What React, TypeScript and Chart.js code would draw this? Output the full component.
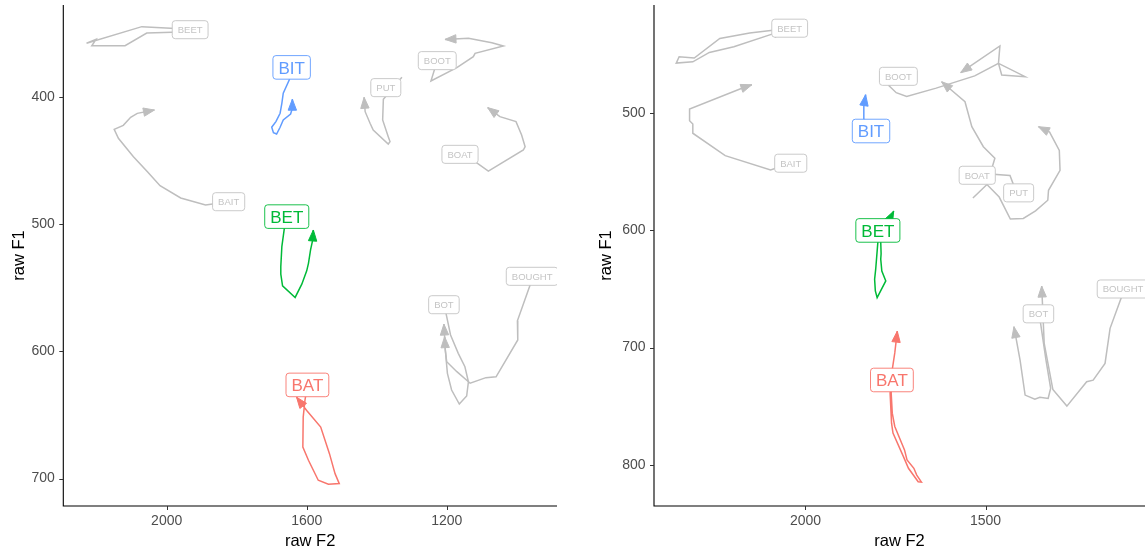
import React, { useEffect, useRef } from "react";
import { Chart, registerables } from "chart.js";

Chart.register(...registerables);

type Pt = [number, number];

const FONT = '"Liberation Sans", Arial, Helvetica, sans-serif';

// Words (order used for the label arrays)
const WORDS = ["BEET", "BIT", "BAIT", "BET", "BAT", "BOT", "BOUGHT", "BOOT", "PUT", "BOAT"];
const HIGHLIGHT_WORDS = ["BAT", "BET", "BIT"];
const HIGHLIGHT_COLORS = ["#F8766D", "#00BA38", "#619CFF"];
const GREY = "#BEBEBE";

// Axis ticks
const leftXTicks = [2000, 1600, 1200];
const leftYTicks = [400, 500, 600, 700];
const rightXTicks = [2000, 1500];
const rightYTicks = [500, 600, 700, 800];

// Axis limits [min, max] (Hz)
const leftF2Range = [884.9, 2295.4];
const leftF1Range = [328, 721.5];
const rightF2Range = [1057, 2420.8];
const rightF1Range = [407.5, 835.3];

// ---- Left speaker: trajectories [F2, F1] ----
const leftBEET: Pt[] = [[1933, 347], [2071, 345], [2229, 358], [2202, 355], [2214, 360], [2119, 360], [2057, 350], [1984, 349.5], [1943, 349]];
const leftBIT: Pt[] = [[1643, 377], [1650, 386.9], [1667, 397.3], [1671, 405.2], [1676, 413], [1688, 419.6], [1700, 424], [1695, 428.3], [1686, 429.3], [1676, 424], [1667, 418.3], [1646, 413.6], [1641, 409.1], [1641, 402]];
const leftBAIT: Pt[] = [[1823, 482.5], [1889, 485.1], [1960, 479.6], [2019, 469.9], [2055, 458.9], [2095, 447.1], [2138, 432.7], [2150, 425.7], [2124, 422.5], [2103, 416.2], [2084, 413.1], [2035, 410.5]];
const leftBET: Pt[] = [[1657, 494.2], [1664, 503.7], [1671, 517.8], [1674, 533.5], [1674, 539.4], [1669, 548.6], [1633, 557.7], [1614, 547.3], [1600, 536.8], [1595, 530.9], [1589, 520.4], [1583, 512.6], [1581, 504.7]];
const leftBAT: Pt[] = [[1598, 626.4], [1605, 638.6], [1610, 651.7], [1611, 675.2], [1595, 685.6], [1567, 701.3], [1538, 704.4], [1507, 703.9], [1519, 696.1], [1535, 680.4], [1560, 659.5], [1600, 646.5], [1629, 636]];
const leftBOT: Pt[] = [[1208, 563.4], [1202, 570.2], [1189, 587.2], [1167, 601.6], [1148, 612.1], [1138, 623.9], [1143, 635.1], [1164, 641.4], [1186, 630.4], [1198, 617.3], [1204, 599], [1208, 578.6]];
const leftBOUGHT: Pt[] = [[956, 541.1], [962, 548.2], [998, 576], [997, 591.1], [1059, 620], [1088, 620.7], [1133, 625.1], [1171, 616], [1200, 608.2], [1204, 599], [1206, 588.5]];
const leftBOOT: Pt[] = [[1227, 371.7], [1245, 387.7], [1171, 377.2], [1124, 368.6], [1119, 366], [1038, 360.2], [1071, 357.6], [1138, 354.2], [1205, 355]];
const leftPUT: Pt[] = [[1328, 384.8], [1381, 402.1], [1383, 418.3], [1367, 431.4], [1362, 435.3], [1367, 437.2], [1410, 426.2], [1419, 420.9], [1433, 411.8], [1436, 400.5]];
const leftBOAT: Pt[] = [[1162, 445.3], [1112, 452.4], [1081, 458.4], [981, 441.9], [976, 439.3], [986, 430.1], [1002, 419.6], [1048, 415.7], [1083, 408.6]];
const leftLabelF2 = [1933, 1643, 1823, 1657, 1598, 1208, 956, 1227, 1374, 1162];
const leftLabelF1 = [347.4, 377, 482.5, 494.2, 626.4, 563.4, 541.1, 371.7, 392.9, 445.3];

// ---- Right speaker: trajectories [F2, F1] ----
const rightBEET: Pt[] = [[2044, 427.3], [2155, 431.5], [2238, 436.1], [2309, 452.8], [2351, 451.7], [2359, 457.1], [2313, 456], [2267, 448], [2199, 443.2], [2093, 432.4], [2058, 429.5]];
const rightBIT: Pt[] = [[1818, 515.1], [1838, 504.8], [1838, 494.3], [1833, 484.1]];
const rightBAIT: Pt[] = [[2041, 542.6], [2097, 548.3], [2223, 536.1], [2313, 517], [2313, 509.1], [2322, 506.3], [2322, 496.3], [2175, 478.4], [2149, 475.6]];
const rightBET: Pt[] = [[1799, 600], [1799, 610], [1805, 633.1], [1808, 641.7], [1806, 651.7], [1801, 657.4], [1777, 643.1], [1788, 634.6], [1791, 624.6], [1790, 619.9], [1791, 610], [1782, 600], [1755, 583.5]];
const rightBAT: Pt[] = [[1760, 727.7], [1765, 738.9], [1761, 764.6], [1757, 773.1], [1728, 793.1], [1714, 803.1], [1687, 814.6], [1678, 814.9], [1691, 808.9], [1699, 803.1], [1718, 796], [1725, 787.4], [1752, 767.4], [1759, 756], [1762, 738.9], [1759, 718.9], [1752, 704.6], [1745, 686]];
const rightBOT: Pt[] = [[1353, 671.2], [1347, 679.3], [1332, 710.7], [1319, 734.8], [1326, 743.4], [1349, 742.5], [1363, 744.2], [1390, 740.6], [1404, 710.7], [1421, 682.2]];
const rightBOUGHT: Pt[] = [[1118, 650], [1122, 656.6], [1154, 683.6], [1168, 713.5], [1201, 727.8], [1219, 729.2], [1274, 750], [1313, 735.7], [1337, 696.4], [1341, 668], [1344, 647.5]];
const rightBOOT: Pt[] = [[1742, 468.4], [1768, 476.5], [1748, 482.4], [1719, 485.6], [1637, 478.5], [1530, 468], [1464, 457.3], [1455, 467.3], [1390, 468.7], [1464, 457.3], [1460, 442.5], [1569, 465.3]];
const rightPUT: Pt[] = [[1408, 567.9], [1423, 560.4], [1432, 553], [1487, 551.8], [1474, 538.4], [1506, 528.5], [1538, 511.4], [1557, 490.1], [1622, 473]];
const rightBOAT: Pt[] = [[1535, 572.3], [1496, 560.8], [1462, 571.5], [1431, 590.3], [1395, 589.8], [1361, 583.3], [1327, 574.2], [1325, 565.7], [1293, 548.7], [1295, 531.7], [1322, 516.1], [1353, 511.4]];
const rightLabelF2 = [2044, 1818, 2041, 1799, 1760, 1353, 1118, 1742, 1408, 1523];
const rightLabelF1 = [427.3, 515.1, 542.6, 600, 727.7, 671.2, 650, 468.4, 567.9, 552.9];

const leftPaths = [leftBEET, leftBIT, leftBAIT, leftBET, leftBAT, leftBOT, leftBOUGHT, leftBOOT, leftPUT, leftBOAT];
const rightPaths = [rightBEET, rightBIT, rightBAIT, rightBET, rightBAT, rightBOT, rightBOUGHT, rightBOOT, rightPUT, rightBOAT];

function colorOf(word: string): string {
  const i = HIGHLIGHT_WORDS.indexOf(word);
  return i >= 0 ? HIGHLIGHT_COLORS[i] : GREY;
}

interface PanelCfg {
  left: number;
  width: number;
  paths: Pt[][];
  labelF2: number[];
  labelF1: number[];
  xRange: number[];
  yRange: number[];
  xTicks: number[];
  yTicks: number[];
  yAxisWidth: number;
  yTitlePad: number;
  padRight: number;
}

const TICK_LEN = 4;

function roundRect(ctx: CanvasRenderingContext2D, x: number, y: number, w: number, h: number, r: number) {
  ctx.beginPath();
  ctx.moveTo(x + r, y);
  ctx.lineTo(x + w - r, y);
  ctx.arcTo(x + w, y, x + w, y + r, r);
  ctx.lineTo(x + w, y + h - r);
  ctx.arcTo(x + w, y + h, x + w - r, y + h, r);
  ctx.lineTo(x + r, y + h);
  ctx.arcTo(x, y + h, x, y + h - r, r);
  ctx.lineTo(x, y + r);
  ctx.arcTo(x, y, x + r, y, r);
  ctx.closePath();
}

function makeOverlay(cfg: PanelCfg) {
  return {
    id: "overlay",
    afterDatasetsDraw(chart: any) {
      const { ctx, chartArea } = chart;
      const xs = chart.scales.x;
      const ys = chart.scales.y;
      ctx.save();
      ctx.beginPath();
      ctx.rect(chartArea.left, chartArea.top, chartArea.right - chartArea.left, chartArea.bottom - chartArea.top);
      ctx.clip();
      // arrow heads
      const L = 11;
      const W = 4.2;
      chart.data.datasets.forEach((ds: any) => {
        const d = ds.data;
        const n = d.length;
        if (n < 2) return;
        const x1 = xs.getPixelForValue(d[n - 2].x);
        const y1 = ys.getPixelForValue(d[n - 2].y);
        const x2 = xs.getPixelForValue(d[n - 1].x);
        const y2 = ys.getPixelForValue(d[n - 1].y);
        const a = Math.atan2(y2 - y1, x2 - x1);
        const c = Math.cos(a);
        const s = Math.sin(a);
        ctx.fillStyle = ds.borderColor;
        ctx.strokeStyle = ds.borderColor;
        ctx.lineWidth = 1;
        ctx.lineJoin = "miter";
        ctx.beginPath();
        ctx.moveTo(x2, y2);
        ctx.lineTo(x2 - L * c + W * s, y2 - L * s - W * c);
        ctx.lineTo(x2 - L * c - W * s, y2 - L * s + W * c);
        ctx.closePath();
        ctx.fill();
        ctx.stroke();
      });
      // labels: grey first, highlighted on top
      const order = WORDS.map((w, i) => i).sort((a, b) => {
        const ha = HIGHLIGHT_WORDS.indexOf(WORDS[a]) >= 0 ? 1 : 0;
        const hb = HIGHLIGHT_WORDS.indexOf(WORDS[b]) >= 0 ? 1 : 0;
        return ha - hb;
      });
      order.forEach((i) => {
        const word = WORDS[i];
        const hl = HIGHLIGHT_WORDS.indexOf(word) >= 0;
        const fs = hl ? 17 : 9.5;
        const cx = xs.getPixelForValue(cfg.labelF2[i]);
        const cy = ys.getPixelForValue(cfg.labelF1[i]);
        ctx.font = `${fs}px ${FONT}`;
        const tw = ctx.measureText(word).width;
        const pad = 5.5;
        const bw = tw + 2 * pad;
        const bh = 2 * pad + 0.74 * fs;
        const col = hl ? colorOf(word) : "#C4C4C4";
        roundRect(ctx, cx - bw / 2, cy - bh / 2, bw, bh, 3);
        ctx.fillStyle = "#FFFFFF";
        ctx.fill();
        ctx.strokeStyle = col;
        ctx.lineWidth = 0.9;
        ctx.stroke();
        ctx.fillStyle = col;
        ctx.textBaseline = "alphabetic";
        ctx.textAlign = "left";
        ctx.fillText(word, cx - tw / 2, cy + 0.36 * fs);
      });
      ctx.restore();
    },
    afterDraw(chart: any) {
      // axis lines and tick marks
      const { ctx, chartArea } = chart;
      const xs = chart.scales.x;
      const ys = chart.scales.y;
      ctx.save();
      ctx.strokeStyle = "#000000";
      ctx.lineWidth = 1.1;
      ctx.lineCap = "butt";
      ctx.beginPath();
      ctx.moveTo(chartArea.left, chartArea.top);
      ctx.lineTo(chartArea.left, chartArea.bottom + 0.55);
      ctx.moveTo(chartArea.left - 0.55, chartArea.bottom);
      ctx.lineTo(chartArea.right, chartArea.bottom);
      ctx.stroke();
      ctx.strokeStyle = "#333333";
      ctx.lineWidth = 1;
      ctx.beginPath();
      cfg.xTicks.forEach((v) => {
        const px = Math.round(xs.getPixelForValue(v)) + 0.5;
        ctx.moveTo(px, chartArea.bottom);
        ctx.lineTo(px, chartArea.bottom + TICK_LEN);
      });
      cfg.yTicks.forEach((v) => {
        const py = Math.round(ys.getPixelForValue(v)) + 0.5;
        ctx.moveTo(chartArea.left, py);
        ctx.lineTo(chartArea.left - TICK_LEN, py);
      });
      ctx.stroke();
      ctx.restore();
    },
  };
}

function Panel({ cfg }: { cfg: PanelCfg }) {
  const ref = useRef<HTMLCanvasElement>(null);
  useEffect(() => {
    const canvas = ref.current;
    if (!canvas) return;
    const idx = WORDS.map((w, i) => i);
    // highlighted first so they are drawn on top
    idx.sort((a, b) => {
      const ha = HIGHLIGHT_WORDS.indexOf(WORDS[a]) >= 0 ? 0 : 1;
      const hb = HIGHLIGHT_WORDS.indexOf(WORDS[b]) >= 0 ? 0 : 1;
      return ha - hb;
    });
    const datasets = idx.map((i) => ({
      label: WORDS[i],
      data: cfg.paths[i].map(([x, y]) => ({ x, y })),
      showLine: true,
      borderColor: colorOf(WORDS[i]),
      backgroundColor: colorOf(WORDS[i]),
      borderWidth: 1.5,
      pointRadius: 0,
      pointHoverRadius: 0,
      tension: 0,
      fill: false,
      borderJoinStyle: "miter" as const,
    }));
    const axisCommon = {
      type: "linear" as const,
      reverse: true,
      grid: { display: false, drawTicks: false },
      border: { display: false },
    };
    const chart = new Chart(canvas, {
      type: "scatter",
      data: { datasets },
      options: {
        responsive: false,
        animation: false,
        events: [],
        layout: { padding: { left: 0, top: 5, right: cfg.padRight, bottom: 0 } },
        plugins: { legend: { display: false }, tooltip: { enabled: false } },
        scales: {
          x: {
            ...axisCommon,
            min: cfg.xRange[0],
            max: cfg.xRange[1],
            afterBuildTicks: (s: any) => {
              s.ticks = cfg.xTicks.map((v) => ({ value: v }));
            },
            afterFit: (s: any) => {
              s.height = 46;
              s.paddingLeft = 0;
              s.paddingRight = 0;
            },
            ticks: {
              color: "#4D4D4D",
              font: { size: 14, family: FONT },
              padding: 3 + TICK_LEN,
              maxRotation: 0,
              autoSkip: false,
              callback: (v: any) => String(v),
            },
            title: {
              display: true,
              text: "raw F2",
              color: "#000000",
              font: { size: 16.5, family: FONT },
              padding: { top: 0, bottom: 0.6 },
            },
          },
          y: {
            ...axisCommon,
            min: cfg.yRange[0],
            max: cfg.yRange[1],
            afterBuildTicks: (s: any) => {
              s.ticks = cfg.yTicks.map((v) => ({ value: v }));
            },
            afterFit: (s: any) => {
              s.width = cfg.yAxisWidth;
              s.paddingTop = 0;
              s.paddingBottom = 0;
            },
            ticks: {
              color: "#4D4D4D",
              font: { size: 14, family: FONT },
              padding: 4.5 + TICK_LEN,
              autoSkip: false,
              callback: (v: any) => String(v),
            },
            title: {
              display: true,
              text: "raw F1",
              color: "#000000",
              font: { size: 16.5, family: FONT },
              padding: { top: cfg.yTitlePad, bottom: 0 },
            },
          },
        },
      } as any,
      plugins: [makeOverlay(cfg)],
    });
    return () => chart.destroy();
  }, [cfg]);
  return (
    <canvas
      ref={ref}
      width={cfg.width}
      height={552}
      style={{ position: "absolute", left: cfg.left, top: 0, width: cfg.width, height: 552 }}
    />
  );
}

const leftCfg: PanelCfg = {
  left: 0,
  width: 572,
  paths: leftPaths,
  labelF2: leftLabelF2,
  labelF1: leftLabelF1,
  xRange: leftF2Range,
  yRange: leftF1Range,
  xTicks: leftXTicks,
  yTicks: leftYTicks,
  yAxisWidth: 63.3,
  yTitlePad: 9.5,
  padRight: 15,
};

const rightCfg: PanelCfg = {
  left: 572,
  width: 573,
  paths: rightPaths,
  labelF2: rightLabelF2,
  labelF1: rightLabelF1,
  xRange: rightF2Range,
  yRange: rightF1Range,
  xTicks: rightXTicks,
  yTicks: rightYTicks,
  yAxisWidth: 82,
  yTitlePad: 25,
  padRight: 0,
};

export default function App() {
  return (
    <div style={{ position: "absolute", left: 0, top: 0, width: 1145, height: 552, background: "#FFFFFF" }}>
      <Panel cfg={leftCfg} />
      <Panel cfg={rightCfg} />
    </div>
  );
}
